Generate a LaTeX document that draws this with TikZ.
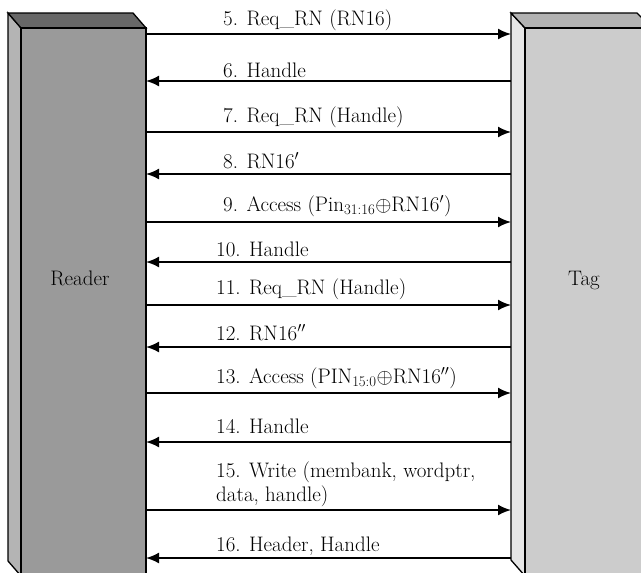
\documentclass[tikz,border=0pt]{standalone}
\usepackage{fontspec}
\setmainfont{Latin Modern Roman}
\usetikzlibrary{arrows.meta}
\definecolor{rfront}{HTML}{9A9A9A}
\definecolor{rtop}{HTML}{686868}
\definecolor{rside}{HTML}{B4B4B4}
\definecolor{tfront}{HTML}{CCCCCC}
\definecolor{ttop}{HTML}{B2B2B2}
\definecolor{tside}{HTML}{E6E6E6}
\tikzset{
  face/.style={draw=black, line width=1.3pt, line join=miter},
  msg/.style={draw=black, line width=1.9pt, -{Latex[length=13pt,width=11pt]}},
  lbl/.style={anchor=base west, inner sep=0pt, font=\fontsize{21}{24}\selectfont},
  boxlbl/.style={anchor=base, inner sep=0pt, font=\fontsize{21}{24}\selectfont}
}
\begin{document}
\begin{tikzpicture}[x=1pt,y=-1pt]
\useasboundingbox (0,0) rectangle (641,573);
\begin{scope}
\clip (0,0) rectangle (641,573);
\fill[white] (0,0) rectangle (641,573);
% Reader box
\filldraw[face, fill=rside] (8,13) -- (21,28) -- (21,576) -- (8,561) -- cycle;
\filldraw[face, fill=rtop] (8,13) -- (133,13) -- (146,28) -- (21,28) -- cycle;
\filldraw[face, fill=rfront] (21,28) rectangle (146,600);
% Tag box
\filldraw[face, fill=tside] (511,13) -- (525,28) -- (525,576) -- (511,560) -- cycle;
\filldraw[face, fill=ttop] (511,13) -- (637,13) -- (652,28) -- (525,28) -- cycle;
\filldraw[face, fill=tfront] (525,28) rectangle (680,600);
\end{scope}
\node[boxlbl] (reader) at (80,285) {Reader};
\node[boxlbl] (tag) at (584,285) {Tag};
% connector end points
\foreach \n/\y in {5/34,6/81,7/132,8/174,9/222,10/262,11/305,12/347,13/393,14/442,15/510,16/558}{
  \coordinate (r\n) at (146,\y);
  \coordinate (t\n) at (511,\y);
}
\foreach \n in {5,7,9,11,13,15}{ \draw[msg] (r\n) -- (t\n); }
\foreach \n in {6,8,10,12,14,16}{ \draw[msg] (t\n) -- (r\n); }
% labels
\node[lbl] (l5) at (223,25) {5. Req\_RN (RN16)};
\node[lbl] (l6) at (223,77) {6. Handle};
\node[lbl] (l7) at (223,122) {7. Req\_RN (Handle)};
\node[lbl] (l8) at (223,168) {8. RN16$'$};
\node[lbl] (l9) at (223,211) {9. Access (Pin\textsubscript{31:16}$\oplus$RN16$'$)};
\node[lbl] (l10) at (216,256) {10. Handle};
\node[lbl] (l11) at (216,294) {11. Req\_RN (Handle)};
\node[lbl] (l12) at (216,340) {12. RN16$''$};
\node[lbl] (l13) at (216,383) {13. Access (PIN\textsubscript{15:0}$\oplus$RN16$''$)};
\node[lbl] (l14) at (216,433) {14. Handle};
\node[lbl] (l15) at (216,477) {\begin{tabular}[t]{@{}l@{}}15. Write (membank, wordptr,\\data, handle)\end{tabular}};
\node[lbl] (l16) at (216,551) {16. Header, Handle};
\end{tikzpicture}
\end{document}
